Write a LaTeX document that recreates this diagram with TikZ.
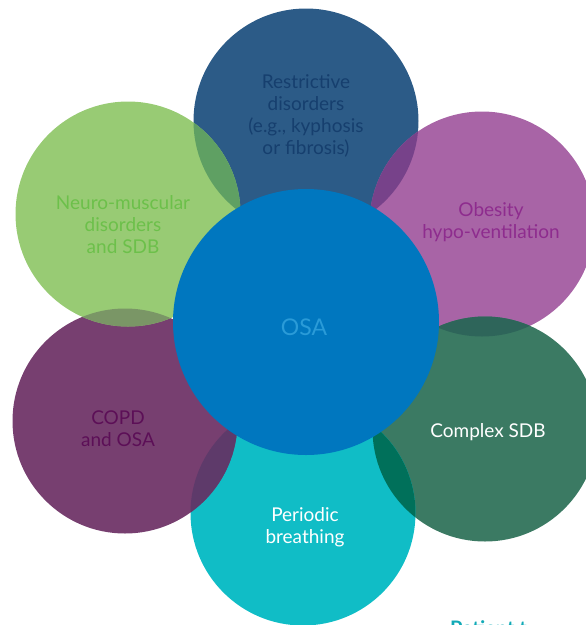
\documentclass[tikz,border=0pt]{standalone}
\usepackage{fontspec}
\setmainfont{Lato}
\definecolor{restrcol}{HTML}{2C5B87}
\definecolor{neurocol}{HTML}{98CB74}
\definecolor{obescol}{HTML}{A864A6}
\definecolor{cplxcol}{HTML}{3B7A63}
\definecolor{periocol}{HTML}{10BDC6}
\definecolor{copdcol}{HTML}{773F70}
\definecolor{osacol}{HTML}{0077BF}
\definecolor{nrlens}{HTML}{5FA063}
\definecolor{rolens}{HTML}{77428A}
\definecolor{oclens}{HTML}{2E655A}
\definecolor{cplens}{HTML}{00705A}
\definecolor{pclens}{HTML}{5E3A6A}
\definecolor{cnlens}{HTML}{7A9666}
\definecolor{restrtxt}{HTML}{163F6E}
\definecolor{neurotxt}{HTML}{6CC04A}
\definecolor{obestxt}{HTML}{8E2C8E}
\definecolor{osatxt}{HTML}{2A9BD8}
\definecolor{copdtxt}{HTML}{5C0F57}
\definecolor{patcol}{HTML}{12AAB7}
% lens where two discs overlap
\newcommand{\lens}[3]{\begin{scope}\clip (#1.center) circle[radius=112.5pt];
  \fill[#3] (#2.center) circle[radius=112.5pt];\end{scope}}
\begin{document}
\begin{tikzpicture}[x=1pt,y=1pt,every text node part/.style={align=center},
disc/.style={circle,minimum size=225pt,inner sep=0pt,outer sep=0pt},
lbl/.style={font=\fontsize{19}{22}\selectfont}]
\useasboundingbox (0,0) rectangle (586,-625);
\clip (0,0) rectangle (586,-625);
% outer ring
\node[disc,fill=restrcol] (restr) at (306,-121) {};
\node[disc,fill=obescol] (obes) at (482,-224) {};
\node[disc,fill=cplxcol] (cplx) at (485,-429) {};
\node[disc,fill=periocol] (perio) at (303,-513) {};
\node[disc,fill=copdcol] (copd) at (125,-421) {};
\node[disc,fill=neurocol] (neuro) at (128,-214) {};
\lens{neuro}{restr}{nrlens}
\lens{restr}{obes}{rolens}
\lens{obes}{cplx}{oclens}
\lens{cplx}{perio}{cplens}
\lens{perio}{copd}{pclens}
\lens{copd}{neuro}{cnlens}
% centre
\node[disc,minimum size=266pt,fill=osacol] (osa) at (306,-322) {};
% labels
\node[lbl,text=restrtxt] (restr-txt) at (306,-116) {Restrictive\\disorders\\(e.g., kyphosis\\or fibrosis)};
\node[lbl,text=neurotxt] (neuro-txt) at (123,-225) {Neuro-muscular\\disorders\\and SDB};
\node[lbl,text=obestxt] (obes-txt) at (491,-222) {Obesity\\hypo-ventilation};
\node[font=\fontsize{23}{26}\selectfont,text=osatxt] (osa-txt) at (304,-327) {OSA};
\node[lbl,text=white] (cplx-txt) at (488,-432) {Complex SDB};
\node[lbl,text=white] (perio-txt) at (305,-527) {Periodic\\breathing};
\node[lbl,text=copdtxt] (copd-txt) at (118,-429) {COPD\\and OSA};
\node[anchor=north west,inner sep=0pt,font=\fontsize{20}{24}\selectfont\bfseries,text=patcol] (pat) at (450,-620) {Patient t};
\end{tikzpicture}
\end{document}
